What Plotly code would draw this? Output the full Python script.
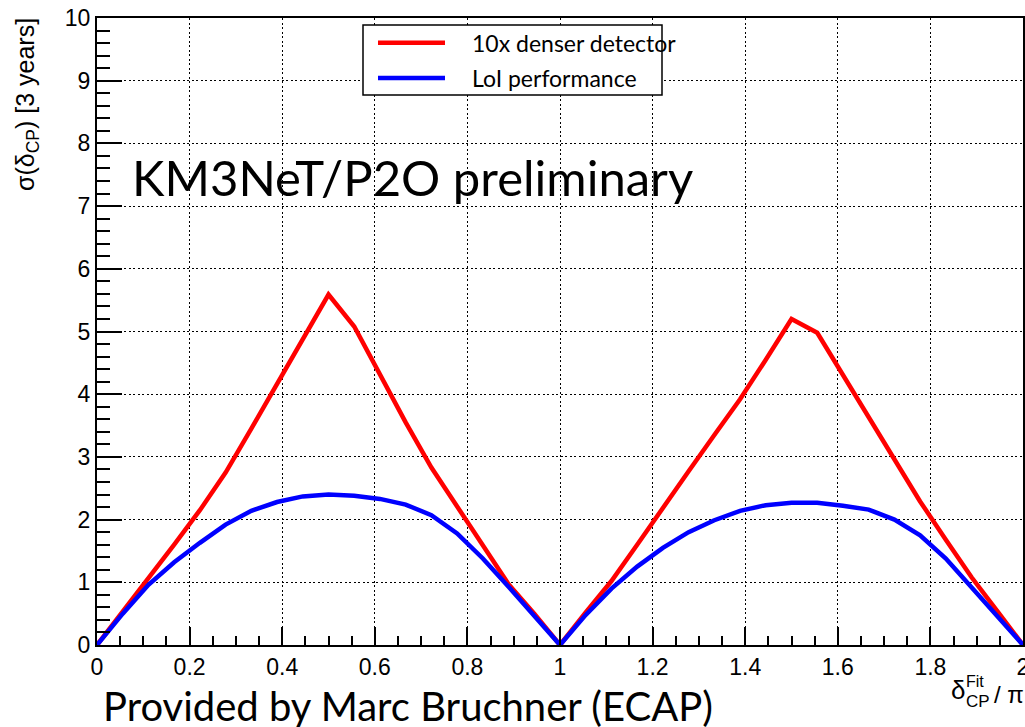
import plotly.graph_objects as go

# delta_CP^Fit / pi sampled at k/18, k = 0..36
delta_fit = [k / 18 for k in range(37)]

# sigma(delta_CP) after 3 years, 10x denser detector
sigma_dense = [
    0.00, 0.53, 1.06, 1.60, 2.15, 2.75, 3.45, 4.17, 4.88, 5.59,
    5.08, 4.30, 3.55, 2.83, 2.20, 1.58, 0.97, 0.50, 0.00,
    0.52, 1.02, 1.60, 2.17, 2.77, 3.35, 3.92, 4.55, 5.20,
    4.98, 4.30, 3.62, 2.94, 2.29, 1.68, 1.08, 0.54, 0.00,
]

# sigma(delta_CP) after 3 years, LoI performance
sigma_loi = [
    0.00, 0.50, 0.96, 1.32, 1.63, 1.92, 2.14, 2.28, 2.37, 2.40,
    2.38, 2.33, 2.24, 2.07, 1.78, 1.38, 0.93, 0.47, 0.00,
    0.48, 0.90, 1.25, 1.55, 1.80, 1.99, 2.14, 2.23, 2.27,
    2.27, 2.22, 2.16, 2.00, 1.75, 1.38, 0.92, 0.46, 0.00,
]

series_names = ["10x denser detector", "LoI performance"]
series_colors = ["#ff0000", "#0000ff"]

x_tick_vals = [0, 0.2, 0.4, 0.6, 0.8, 1, 1.2, 1.4, 1.6, 1.8, 2]
x_tick_text = ["0", "0.2", "0.4", "0.6", "0.8", "1", "1.2", "1.4", "1.6", "1.8", "2"]
y_tick_vals = list(range(11))
y_tick_text = [str(v) for v in y_tick_vals]

W, H = 1025, 727
L, R, T, B = 97, 2, 18, 82
PW, PH = W - L - R, H - T - B


def px(xp):
    return (xp - L) / PW


def py(yp):
    return (H - B - yp) / PH


fig = go.Figure()
for name, ys, col in zip(series_names, [sigma_dense, sigma_loi], series_colors):
    fig.add_trace(go.Scatter(x=delta_fit, y=ys, mode="lines", name=name,
                             line=dict(color=col, width=4.5), showlegend=False,
                             cliponaxis=True))

helv = "Liberation Sans, Arial, sans-serif"
slide_font = "Lato, Open Sans, sans-serif"
tick_font = dict(family=helv, size=23, color="black")

axis_common = dict(
    showline=True, linecolor="black", linewidth=2, mirror=True,
    showgrid=True, gridcolor="black", gridwidth=1, griddash="2px,2.5px",
    zeroline=False, ticks="inside", tickcolor="black", tickwidth=1.5,
    tickfont=tick_font, tickmode="array", ticklabeloverflow="allow",
    automargin=False,
)

fig.update_xaxes(range=[0, 2], tickvals=x_tick_vals, ticktext=x_tick_text, ticklen=18,
                 minor=dict(ticks="inside", tick0=0, dtick=0.05, ticklen=9,
                            tickcolor="black", tickwidth=1.5, showgrid=False),
                 **axis_common)
fig.update_yaxes(range=[0, 10], tickvals=y_tick_vals, ticktext=y_tick_text, ticklen=25,
                 minor=dict(ticks="inside", tick0=0, dtick=0.2, ticklen=13,
                            tickcolor="black", tickwidth=1.5, showgrid=False),
                 **axis_common)

shapes = []
annotations = []

# legend box
shapes.append(dict(type="rect", xref="paper", yref="paper",
                   x0=px(363), x1=px(662), y0=py(95), y1=py(25),
                   line=dict(color="black", width=1.5), fillcolor="white",
                   layer="above"))
for name, col, yc in zip(series_names, series_colors, [42.7, 78]):
    shapes.append(dict(type="line", xref="paper", yref="paper",
                       x0=px(378), x1=px(445), y0=py(yc), y1=py(yc),
                       line=dict(color=col, width=4.5), layer="above"))
    annotations.append(dict(text=name, xref="paper", yref="paper",
                            x=px(470), y=py(yc), xanchor="left", yanchor="middle",
                            showarrow=False,
                            font=dict(family=slide_font, size=23, color="black")))

# large label inside the frame
annotations.append(dict(text="KM3NeT/P2O preliminary", xref="paper", yref="paper",
                        x=px(130), y=py(177), xanchor="left", yanchor="middle",
                        showarrow=False,
                        font=dict(family=slide_font, size=49, color="black")))

# credit line under the chart
annotations.append(dict(text="Provided by Marc Bruchner (ECAP)", xref="paper", yref="paper",
                        x=px(101), y=py(706), xanchor="left", yanchor="middle",
                        showarrow=False,
                        font=dict(family=slide_font, size=40, color="black")))

# y-axis title, right-aligned at the top of the axis
annotations.append(dict(text="σ(δ<sub>CP</sub>) [3 years]", xref="paper", yref="paper",
                        x=px(27), y=py(105), xanchor="center", yanchor="middle",
                        textangle=-90, showarrow=False,
                        font=dict(family=helv, size=25, color="black")))

# x-axis title: delta with stacked super/subscript
annotations += [
    dict(text="δ", x=px(949), y=py(690), font=dict(family=helv, size=26, color="black")),
    dict(text="Fit", x=px(964), y=py(681), font=dict(family=helv, size=16, color="black")),
    dict(text="CP", x=px(964), y=py(701.5), font=dict(family=helv, size=17, color="black")),
    dict(text="/ π", x=px(992), y=py(694), font=dict(family=helv, size=24, color="black")),
]
for a in annotations[-4:]:
    a.update(xref="paper", yref="paper", xanchor="left", yanchor="middle", showarrow=False)

fig.update_layout(
    width=W, height=H,
    margin=dict(l=L, r=R, t=T, b=B, pad=0, autoexpand=False),
    paper_bgcolor="white", plot_bgcolor="white",
    shapes=shapes, annotations=annotations,
    showlegend=False,
)

fig.write_html("out.html")
